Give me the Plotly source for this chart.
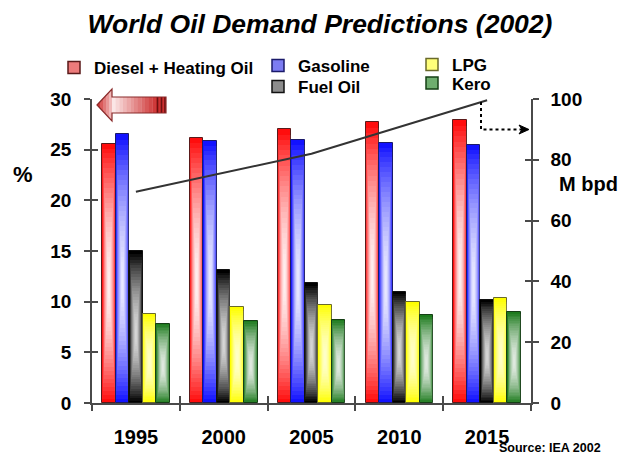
import plotly.graph_objects as go

# ---- data ----
years = ["1995", "2000", "2005", "2010", "2015"]
diesel_heating = [25.6, 26.2, 27.0, 27.7, 27.9]
gasoline = [26.5, 25.9, 26.0, 25.7, 25.5]
fuel_oil = [15.0, 13.1, 11.8, 11.0, 10.2]
lpg = [8.8, 9.45, 9.7, 10.0, 10.4]
kero = [7.8, 8.1, 8.2, 8.65, 8.95]
demand_mbpd = [69.5, 75.8, 82.0, 90.8, 99.6]

series_names = ["Diesel + Heating Oil", "Gasoline", "Fuel Oil", "LPG", "Kero"]
series_values = [diesel_heating, gasoline, fuel_oil, lpg, kero]

FONT = "Liberation Sans, Arial, sans-serif"
AXIS_GREY = "#4a4a4a"

W, H = 622, 455
PL, PR, PT, PB = 92, 531, 99, 403  # plot area in pixels

# per-series styling: edge colour, outline, swatch, highlight strength
edge_col = ["#ff0d0d", "#1212ff", "#000000", "#ffff00", "#1e7b1e"]
outline_col = ["#5a1a1a", "#1a1a6a", "#111111", "#6a6a2a", "#153f15"]
swatch_col = ["#ec7b7b", "#7c7cf2", "#8c8c8c", "#ffff7a", "#6fae6f"]
highlight = [0.95, 0.92, 0.86, 0.82, 0.88]

x_idx = list(range(len(years)))
group_frac = 0.77
bar_w = group_frac / len(series_values)
N_LAYERS = 28
CENTER = 0.45  # vertical position of the highlight, from the bar foot

fig = go.Figure()

for s, vals in enumerate(series_values):
    off = -group_frac / 2 + s * bar_w
    # solid bar with outline
    fig.add_trace(go.Bar(
        x=x_idx, y=vals, width=bar_w, offset=off,
        marker=dict(color=edge_col[s], line=dict(color=outline_col[s], width=1)),
        showlegend=False, hoverinfo="skip",
    ))
    # nested translucent white bars give a soft centre highlight
    prev_t = 0.0
    for k in range(1, N_LAYERS + 1):
        scale = 1 - k / (N_LAYERS + 1)
        t = highlight[s] * (1 - scale ** 1.8)
        alpha = 1 - (1 - t) / (1 - prev_t)
        prev_t = t
        fig.add_trace(go.Bar(
            x=x_idx,
            y=[v * scale for v in vals],
            base=[CENTER * v * (1 - scale) for v in vals],
            width=bar_w * scale,
            offset=off + bar_w * (1 - scale) / 2,
            marker=dict(color=f"rgba(255,255,255,{alpha:.4f})", line=dict(width=0)),
            showlegend=False, hoverinfo="skip",
        ))

# total demand line on the right-hand axis
fig.add_trace(go.Scatter(
    x=x_idx, y=demand_mbpd, yaxis="y2", mode="lines",
    line=dict(color="#333333", width=2), showlegend=False, hoverinfo="skip",
))

# empty traces that carry the tick-only overlay axes
for xa, ya in (("x2", "y"), ("x3", "y"), ("x", "y3"), ("x", "y4")):
    fig.add_trace(go.Scatter(x=[None], y=[None], xaxis=xa, yaxis=ya, mode="lines",
                             showlegend=False, hoverinfo="skip"))

# legend entries, each in its own legend box
legend_pos = [(94, 68), (298, 66), (298, 87), (452, 65), (452, 83.5)]
legend_layout = {}
for s, name in enumerate(series_names):
    key = "legend" if s == 0 else f"legend{s + 1}"
    fig.add_trace(go.Bar(
        x=[None], y=[None], name=name, legend=key,
        marker=dict(color=swatch_col[s], line=dict(color=outline_col[s], width=1.5)),
    ))
    px, py = legend_pos[s]
    legend_layout[key] = dict(
        x=(px - 40) / W, y=1 - py / H, xref="container", yref="container",
        xanchor="left", yanchor="middle", bgcolor="rgba(0,0,0,0)",
        borderwidth=0, font=dict(family=FONT, size=17, color="black", weight="bold"),
    )


def to_paper(px, py):
    return (px - PL) / (PR - PL), (PB - py) / (PB - PT)


def path(points):
    pts = [to_paper(x, y) for x, y in points]
    return "M " + " L ".join(f"{x:.5f},{y:.5f}" for x, y in pts) + " Z"


def mix(c1, c2, t):
    a = [int(c1[i:i + 2], 16) for i in (1, 3, 5)]
    b = [int(c2[i:i + 2], 16) for i in (1, 3, 5)]
    return "#" + "".join(f"{round(a[i] + (b[i] - a[i]) * t):02x}" for i in range(3))


shapes = []
# left-pointing arrow towards the % axis
tip_x, tip_y = 97, 105
head_x, head_top, head_bot = 112, 89, 121
body_top, body_bot, body_end = 97, 113, 166
n_head = 5
for j in range(n_head):
    x0 = tip_x + (head_x - tip_x) * j / n_head
    x1 = tip_x + (head_x - tip_x) * (j + 1) / n_head
    h0 = (head_bot - head_top) / 2 * j / n_head
    h1 = (head_bot - head_top) / 2 * (j + 1) / n_head
    shapes.append(dict(type="path", xref="paper", yref="paper", layer="above",
                       path=path([(x0, tip_y - h0), (x1, tip_y - h1), (x1, tip_y + h1), (x0, tip_y + h0)]),
                       fillcolor=mix("#d23a3a", "#f0b8b8", j / (n_head - 1)), line=dict(width=0)))
n_body = 12
grad_end = 156
for j in range(n_body):
    x0 = head_x + (grad_end - head_x) * j / n_body
    x1 = head_x + (grad_end - head_x) * (j + 1) / n_body + 0.3
    shapes.append(dict(type="path", xref="paper", yref="paper", layer="above",
                       path=path([(x0, body_top), (x1, body_top), (x1, body_bot), (x0, body_bot)]),
                       fillcolor=mix("#fbe6e6", "#cf3a3a", j / (n_body - 1)), line=dict(width=0)))
shapes.append(dict(type="path", xref="paper", yref="paper", layer="above",
                   path=path([(grad_end, body_top), (body_end, body_top), (body_end, body_bot), (grad_end, body_bot)]),
                   fillcolor="#cc3030", line=dict(width=0)))
for sx in (157.5, 161.5, 165):
    shapes.append(dict(type="line", xref="paper", yref="paper", layer="above",
                       x0=to_paper(sx, 0)[0], x1=to_paper(sx, 0)[0],
                       y0=to_paper(0, body_top)[1], y1=to_paper(0, body_bot)[1],
                       line=dict(color="#6e1010", width=1.6)))
shapes.append(dict(type="path", xref="paper", yref="paper", layer="above",
                   path=path([(tip_x, tip_y), (head_x, head_top), (head_x, body_top), (body_end, body_top),
                              (body_end, body_bot), (head_x, body_bot), (head_x, head_bot)]),
                   fillcolor="rgba(0,0,0,0)", line=dict(color="#8a2a2a", width=1.2)))

# dotted pointer from the end of the demand line to the M bpd axis
shapes.append(dict(type="path", xref="paper", yref="paper", layer="above",
                   path="M {:.5f},{:.5f} L {:.5f},{:.5f} L {:.5f},{:.5f}".format(
                       *to_paper(481, 102), *to_paper(481, 129.5), *to_paper(522, 129.5)),
                   line=dict(color="black", width=2, dash="dot")))
shapes.append(dict(type="path", xref="paper", yref="paper", layer="above",
                   path=path([(519, 125), (529, 129.5), (519, 134), (522, 129.5)]),
                   fillcolor="black", line=dict(color="black", width=1)))

tick_font = dict(family=FONT, size=19, color="black", weight="bold")
boundaries = [i - 0.5 for i in range(len(years) + 1)]
left_ticks = list(range(0, 31, 5))
right_ticks = list(range(0, 101, 20))


def text_note(text, px, py, size, xanchor="center"):
    x, y = to_paper(px, py)
    return dict(text=text, x=x, y=y, xref="paper", yref="paper", showarrow=False,
                xanchor=xanchor, yanchor="middle",
                font=dict(family=FONT, size=size, color="black", weight="bold"))


tick_only = dict(showticklabels=False, showline=False, showgrid=False, zeroline=False,
                 tickwidth=1.5, tickcolor=AXIS_GREY)

fig.update_layout(
    width=W, height=H,
    margin=dict(l=PL, r=W - PR, t=PT, b=H - PB, pad=0, autoexpand=False),
    paper_bgcolor="white", plot_bgcolor="white",
    barmode="overlay", bargap=0,
    title=dict(text="World Oil Demand Predictions (2002)", x=320 / W, y=1 - 24 / H,
               xref="container", yref="container", xanchor="center", yanchor="middle",
               font=dict(family=FONT, size=26.5, color="black", weight="bold", style="italic")),
    xaxis=dict(range=[-0.5, 4.5], tickvals=x_idx, ticktext=years, ticks="",
               showline=True, linecolor=AXIS_GREY, linewidth=1.5, showgrid=False, zeroline=False,
               tickfont=dict(family=FONT, size=20, color="black", weight="bold"),
               ticklabelstandoff=15),
    xaxis2=dict(overlaying="x", anchor="y", range=[-0.5, 4.5], tickvals=boundaries,
                ticks="outside", ticklen=7, **tick_only),
    xaxis3=dict(overlaying="x", anchor="y", range=[-0.5, 4.5], tickvals=boundaries,
                ticks="inside", ticklen=7, **tick_only),
    yaxis=dict(range=[0, 30], tickvals=left_ticks, ticks="outside", ticklen=6, tickwidth=1.5,
               tickcolor=AXIS_GREY, showline=True, linecolor=AXIS_GREY, linewidth=1.5,
               showgrid=False, zeroline=False, tickfont=tick_font, ticklabelstandoff=9),
    yaxis2=dict(overlaying="y", side="right", anchor="x", range=[0, 100], tickvals=right_ticks,
                ticks="outside", ticklen=6, tickwidth=1.5, tickcolor=AXIS_GREY, showline=True,
                linecolor=AXIS_GREY, linewidth=1.5, showgrid=False, zeroline=False,
                tickfont=tick_font, ticklabelstandoff=8),
    yaxis3=dict(overlaying="y", side="left", anchor="x", range=[0, 30], tickvals=left_ticks,
                ticks="inside", ticklen=6, **tick_only),
    yaxis4=dict(overlaying="y", side="right", anchor="x", range=[0, 100], tickvals=right_ticks,
                ticks="inside", ticklen=6, **tick_only),
    shapes=shapes,
    annotations=[
        text_note("%", 23, 174, 22),
        text_note("M bpd", 588, 184, 20),
        text_note("Source: IEA 2002", 497, 447.5, 12.5, xanchor="left"),
    ],
    **legend_layout,
)

fig.write_html("out.html")
